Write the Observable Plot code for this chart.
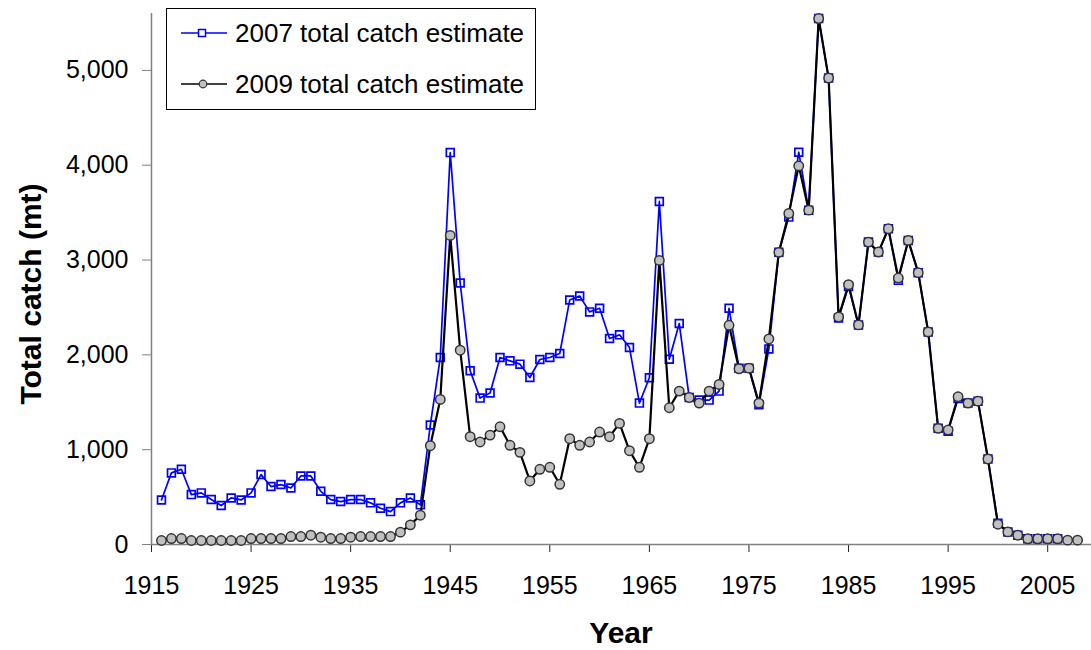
<!DOCTYPE html>
<html>
<head>
<meta charset="utf-8">
<script src="https://cdn.jsdelivr.net/npm/d3@7"></script>
<script src="https://cdn.jsdelivr.net/npm/@observablehq/plot@0.6"></script>
<style>
  html, body { margin: 0; padding: 0; background: #fff; }
  #chart { width: 1091px; height: 650px; }
</style>
</head>
<body>
<div id="chart"></div>
<script>
const years2007 = [1916,1917,1918,1919,1920,1921,1922,1923,1924,1925,1926,1927,1928,1929,1930,1931,1932,1933,1934,1935,1936,1937,1938,1939,1940,1941,1942,1943,1944,1945,1946,1947,1948,1949,1950,1951,1952,1953,1954,1955,1956,1957,1958,1959,1960,1961,1962,1963,1964,1965,1966,1967,1968,1969,1970,1971,1972,1973,1974,1975,1976,1977,1978,1979,1980,1981,1982,1983,1984,1985,1986,1987,1988,1989,1990,1991,1992,1993,1994,1995,1996,1997,1998,1999,2000,2001,2002,2003,2004,2005,2006];
const catch2007 = [470,755,793,526,544,474,411,491,470,544,737,611,632,596,723,723,561,474,453,474,474,439,383,347,439,491,418,1260,1972,4133,2758,1832,1544,1597,1972,1937,1902,1761,1951,1972,2014,2579,2621,2453,2491,2172,2211,2077,1491,1758,3618,1954,2330,1551,1523,1523,1618,2491,1860,1860,1474,2063,3081,3453,4137,3526,5547,4919,2390,2720,2316,3189,3084,3330,2786,3207,2867,2242,1225,1195,1540,1491,1512,902,225,133,98,60,60,60,60];

const years2009 = [1916,1917,1918,1919,1920,1921,1922,1923,1924,1925,1926,1927,1928,1929,1930,1931,1932,1933,1934,1935,1936,1937,1938,1939,1940,1941,1942,1943,1944,1945,1946,1947,1948,1949,1950,1951,1952,1953,1954,1955,1956,1957,1958,1959,1960,1961,1962,1963,1964,1965,1966,1967,1968,1969,1970,1971,1972,1973,1974,1975,1976,1977,1978,1979,1980,1981,1982,1983,1984,1985,1986,1987,1988,1989,1990,1991,1992,1993,1994,1995,1996,1997,1998,1999,2000,2001,2002,2003,2004,2005,2006,2007,2008];
const catch2009 = [42,63,63,42,42,42,42,42,42,63,63,63,63,84,84,98,77,63,63,77,84,84,84,84,130,207,309,1042,1530,3260,2049,1137,1081,1154,1242,1046,972,670,793,814,635,1116,1046,1081,1186,1137,1277,989,814,1116,2996,1442,1618,1551,1491,1618,1688,2312,1853,1860,1491,2168,3081,3491,3993,3526,5547,4919,2400,2740,2316,3189,3084,3330,2810,3207,2867,2242,1225,1207,1558,1491,1512,902,214,133,98,60,60,60,60,46,46];

const xTicks = [1915,1925,1935,1945,1955,1965,1975,1985,1995,2005];
const yTicks = [0,1000,2000,3000,4000,5000];
const seriesNames = ["2007 total catch estimate", "2009 total catch estimate"];
const xTitle = "Year";
const yTitle = "Total catch (mt)";

const d07 = years2007.map((y, i) => ({year: y, value: catch2007[i]}));
const d09 = years2009.map((y, i) => ({year: y, value: catch2009[i]}));

const W = 1091, H = 650;
const FONT = "'Liberation Sans', Arial, Helvetica, sans-serif";

const plot = Plot.plot({
  width: W,
  height: H,
  marginLeft: 151,
  marginRight: 0,
  marginTop: 13,
  marginBottom: 106,
  style: {fontFamily: FONT, fontSize: "25px", background: "#fff", color: "#000"},
  x: {type: "linear", domain: [1915, 2009.4], label: null},
  y: {domain: [0, 5600], label: null},
  marks: [
    Plot.axisX({ticks: xTicks, tickFormat: d => String(d), tickSize: 8, tickPadding: 24, stroke: "#222", fontSize: 25, label: null}),
    Plot.axisY({ticks: yTicks, tickFormat: d3.format(","), tickSize: 9, tickPadding: 14, stroke: "#808080", fontSize: 25, label: null}),
    Plot.ruleY([0], {stroke: "#808080", strokeWidth: 1.5}),
    Plot.ruleX([1915], {stroke: "#808080", strokeWidth: 1.5}),
    Plot.line(d07, {x: "year", y: "value", stroke: "#0000ff", strokeWidth: 1.7}),
    Plot.dot(d07, {x: "year", y: "value", symbol: "square", r: 4.4, stroke: "#0000ff", strokeWidth: 1.7, fill: "none"}),
    Plot.line(d09, {x: "year", y: "value", stroke: "#000", strokeWidth: 2.2}),
    Plot.dot(d09, {x: "year", y: "value", r: 4.7, fill: "#c0c0c0", stroke: "#333", strokeWidth: 1.5})
  ]
});

document.getElementById("chart").appendChild(plot);

// Axis titles and legend (pixel layout), added into the same SVG
const svg = d3.select(plot);
svg.append("text")
  .attr("x", 621).attr("y", 643)
  .attr("text-anchor", "middle")
  .attr("font-family", FONT).attr("font-size", 30).attr("font-weight", "bold")
  .attr("fill", "#000")
  .text(xTitle);
svg.append("text")
  .attr("transform", "translate(41,294) rotate(-90)")
  .attr("text-anchor", "middle")
  .attr("font-family", FONT).attr("font-size", 30).attr("font-weight", "bold")
  .attr("fill", "#000")
  .text(yTitle);

const lg = svg.append("g");
lg.append("rect").attr("x", 166.5).attr("y", 8.5).attr("width", 369).attr("height", 101)
  .attr("fill", "#fff").attr("stroke", "#000").attr("stroke-width", 1);
const rows = [
  {y: 33, stroke: "#0000ff"},
  {y: 84, stroke: "#000"}
];
rows.forEach((r, i) => {
  lg.append("line").attr("x1", 181).attr("x2", 227).attr("y1", r.y).attr("y2", r.y)
    .attr("stroke", r.stroke).attr("stroke-width", 1.5);
  if (i === 0) {
    lg.append("rect").attr("x", 198.5).attr("y", r.y - 3.5).attr("width", 7).attr("height", 7)
      .attr("fill", "#fff").attr("stroke", "#0000ff").attr("stroke-width", 1.5);
  } else {
    lg.append("circle").attr("cx", 203).attr("cy", r.y).attr("r", 3.8)
      .attr("fill", "#c0c0c0").attr("stroke", "#333").attr("stroke-width", 1.2);
  }
  lg.append("text").attr("x", 235).attr("y", r.y).attr("dy", "0.36em")
    .attr("text-anchor", "start")
    .attr("font-family", FONT).attr("font-size", 26).attr("fill", "#000")
    .text(seriesNames[i]);
});
</script>
</body>
</html>
